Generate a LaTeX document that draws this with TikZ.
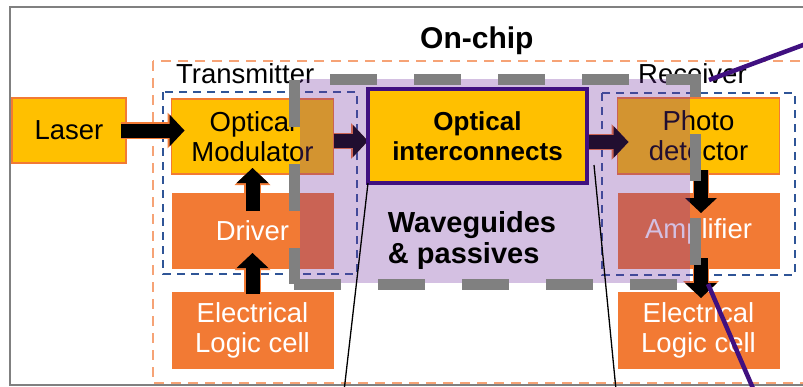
\documentclass[tikz,border=0pt]{standalone}
\usepackage{fontspec}
\setmainfont{Liberation Sans}
\usetikzlibrary{positioning, arrows.meta}
\definecolor{chipyellow}{RGB}{255,192,0}
\definecolor{chiporange}{RGB}{242,122,52}
\definecolor{edgeorange}{RGB}{246,163,118}
\definecolor{groupblue}{RGB}{47,85,151}
\definecolor{wgpurple}{RGB}{112,48,160}
\definecolor{icpurple}{RGB}{64,16,128}
\definecolor{framegray}{RGB}{128,128,128}
\tikzset{x=1pt, y=-1pt, % one unit is one pixel, y runs downwards
box/.style={rectangle, inner sep=0pt, outer sep=0pt, minimum width=162pt, minimum height=76pt,
  align=center, font=\fontsize{27.5}{30}\selectfont}, % common block
optbox/.style={box, fill=chipyellow, draw=chiporange, line width=1.2pt}, % optical parts
elecbox/.style={box, fill=chiporange, text=white}, % electrical parts
blockarrow/.style={line width=14pt, black, -{Triangle[width=32pt, length=15pt, line width=0pt]},
  preaction={draw=chiporange, line width=16.5pt, -{Triangle[width=36pt, length=17pt, line width=0pt]}}},
grouptitle/.style={anchor=base west, inner sep=0pt, font=\fontsize{27.5}{30}\selectfont},
groupbox/.style={draw=groupblue, line width=2pt, dash pattern=on 8pt off 6pt},
chipdash/.style={draw=edgeorange, line width=2.5pt, dash pattern=on 10pt off 7pt},
wgdash/.style={draw=framegray, line width=11pt, dash pattern=on 47pt off 37pt},
zoomline/.style={draw=icpurple, line width=4.5pt},
}

\begin{document}
\begin{tikzpicture}
  \useasboundingbox (0,0) rectangle (803,386);
  \draw[framegray, line width=2.5pt] (10,7) rectangle (860,385);
  \draw[chipdash] (153,61) rectangle (860,383);
  \node[grouptitle, font=\bfseries\fontsize{30}{32}\selectfont] (onchip) at (420,48) {On-chip};
  \node[grouptitle] (tx) at (176,83.5) {Transmitter};
  \node[grouptitle] (rx) at (638,83) {Receiver};

  % transmitter
  \node[optbox, minimum width=114pt, minimum height=65pt] (laser) at (69,130.5) {Laser};
  \node[optbox, minimum height=75pt] (mod) at (252.5,136.5) {Optical\\Modulator};
  \node[elecbox, below=19pt of mod] (drv) {Driver};
  \node[elecbox, minimum height=77pt, below=23pt of drv] (logicT) {Electrical\\Logic cell};

  % receiver
  \node[optbox] (pd) at (698.5,136) {Photo\\detector};
  \node[elecbox, below=19pt of pd] (amp) {Amplifier};
  \node[elecbox, minimum height=77pt, below=23pt of amp] (logicR) {Electrical\\Logic cell};

  \draw[groupbox] (163,92) rectangle (357,274);
  \draw[groupbox] (602,93) rectangle (795,275);

  \draw[blockarrow, shorten <=-5pt, shorten >=-13pt] (laser.east) -- (laser.east -| mod.west);
  \draw[blockarrow, shorten <=-18pt, shorten >=-6pt] (drv) -- (mod);
  \draw[blockarrow, shorten <=-2pt, shorten >=-16pt] (logicT) -- (drv);
  \draw[blockarrow] ([yshift=-4.5pt]mod.east) -- ([yshift=-4.5pt]mod.east -| 368,0);
  \draw[blockarrow, shorten >=-11pt] ([yshift=-6pt]pd.west -| 587,0) -- ([yshift=-6pt]pd.west);
  \draw[blockarrow, shorten <=-4pt, shorten >=-20pt] ([xshift=2.5pt]pd.south) -- ([xshift=2.5pt]amp.north);
  \draw[blockarrow, shorten <=-11pt, shorten >=-6pt] ([xshift=2.5pt]amp.south) -- ([xshift=2.5pt]logicR.north);

  % waveguides and passives
  \node[rectangle, fill=wgpurple, fill opacity=0.3, minimum width=390pt, minimum height=204pt,
    inner sep=0pt, outer sep=0pt] (wg) at (495,181) {};
  \node[optbox, draw=icpurple, line width=4pt, minimum width=219pt, minimum height=94pt,
    font=\bfseries\fontsize{26}{30}\selectfont] (ic) at (477.5,136) {Optical\\interconnects};
  \node[align=left, inner sep=0pt, font=\bfseries\fontsize{29}{31}\selectfont] (wgtext) at (472,240)
    {Waveguides\\\& passives};
  \draw[wgdash] (294,284) -- (695,284) -- (695,79) -- (294,79) -- cycle;

  % call-out lines
  \coordinate (lineL) at (343,400);
  \coordinate (lineRtop) at (594,165);
  \coordinate (lineR) at (617,400);
  \draw[line width=1.3pt] (ic.south west) -- (lineL);
  \draw[line width=1.3pt] (lineRtop) -- (lineR);
  \coordinate (zoomTop) at (709,80);
  \coordinate (zoomTopEnd) at (830,35);
  \coordinate (zoomBot) at (708,284);
  \coordinate (zoomBotEnd) at (758,400);
  \draw[zoomline] (zoomTop) -- (zoomTopEnd);
  \draw[zoomline] (zoomBot) -- (zoomBotEnd);
\end{tikzpicture}
\end{document}
